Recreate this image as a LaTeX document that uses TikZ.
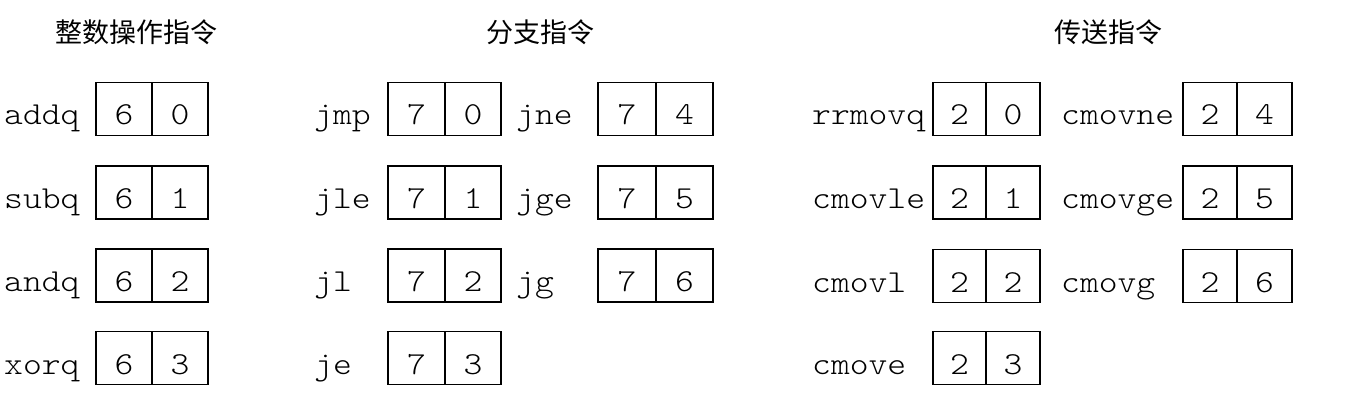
\documentclass[tikz,border=0pt]{standalone}
\usepackage{fontspec}
\newfontfamily\cjk{Noto Sans CJK SC}
\newfontfamily\codefont[FakeStretch=1.12]{Latin Modern Mono Light}
\tikzset{
  lab/.style={anchor=base west, inner sep=0pt, font=\codefont\fontsize{32}{34}\selectfont},
  cell/.style={draw, line width=1.8pt, minimum height=53pt, inner sep=0pt,
    text height=32pt, text depth=0pt, font=\codefont\fontsize{32}{34}\selectfont},
  head/.style={anchor=base, inner sep=0pt, font=\cjk\fontsize{27}{30}\selectfont},
}
% #1 id, #2 label x, #3 box left, #4 divider, #5 box right, #6 y centre, #7 name, #8 #9 digits
\newcommand{\instr}[9]{%
  \node[lab] (#1-l) at ({#2},{#6+16}) {#7};
  \node[cell, minimum width={(#4-#3)*1pt}] (#1-a) at ({(#3+#4)/2},{#6}) {#8};
  \node[cell, minimum width={(#5-#4)*1pt}] (#1-b) at ({(#4+#5)/2},{#6}) {#9};
}
\begin{document}
\begin{tikzpicture}[x=1pt,y=-1pt]
\useasboundingbox[fill=white] (0,0) rectangle (1347,401);
\node[head] (h1) at (136,43) {整数操作指令};
\node[head] (h2) at (540,43) {分支指令};
\node[head] (h3) at (1108,43) {传送指令};
% column 1
\instr{addq}{4}{96}{152}{208}{109}{addq}{6}{0}
\instr{subq}{4}{96}{152}{208}{192.5}{subq}{6}{1}
\instr{andq}{4}{96}{152}{208}{275.5}{andq}{6}{2}
\instr{xorq}{4}{96}{152}{208}{358}{xorq}{6}{3}
% column 2
\instr{jmp}{314}{388}{445}{501}{109}{jmp}{7}{0}
\instr{jle}{314}{388}{445}{501}{192.5}{jle}{7}{1}
\instr{jl}{314}{388}{445}{501}{275.5}{jl}{7}{2}
\instr{je}{314}{388}{445}{501}{358}{je}{7}{3}
\instr{jne}{516}{598}{656}{713}{109}{jne}{7}{4}
\instr{jge}{516}{598}{656}{713}{192.5}{jge}{7}{5}
\instr{jg}{516}{598}{656}{713}{275.5}{jg}{7}{6}
% column 3
\instr{rrmovq}{812}{933}{986}{1040}{109}{rrmovq}{2}{0}
\instr{cmovle}{812}{933}{986}{1040}{192.5}{cmovle}{2}{1}
\instr{cmovl}{812}{933}{986}{1040}{276}{cmovl}{2}{2}
\instr{cmove}{812}{933}{986}{1040}{358}{cmove}{2}{3}
\instr{cmovne}{1061}{1183}{1237}{1292}{109}{cmovne}{2}{4}
\instr{cmovge}{1061}{1183}{1237}{1292}{192.5}{cmovge}{2}{5}
\instr{cmovg}{1061}{1183}{1237}{1292}{276}{cmovg}{2}{6}
\end{tikzpicture}
\end{document}
